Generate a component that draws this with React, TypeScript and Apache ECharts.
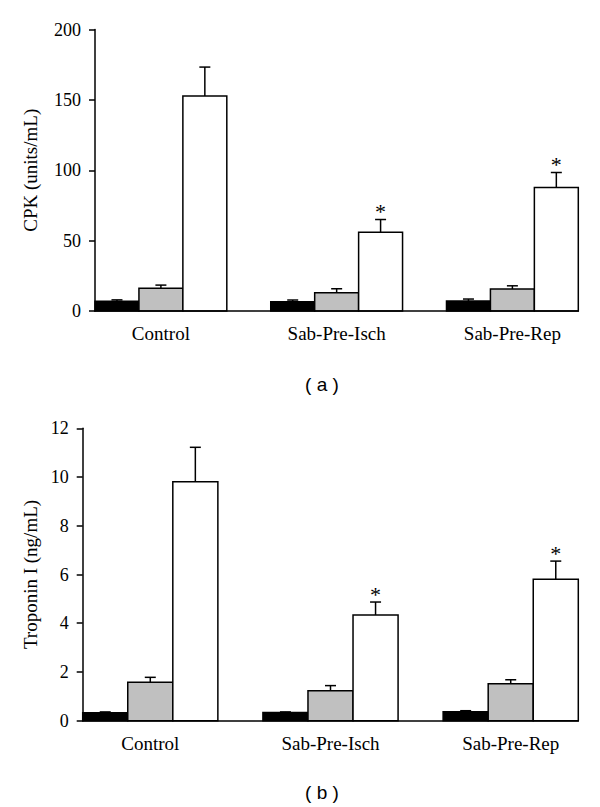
import React, { useEffect, useRef } from "react";
import * as echarts from "echarts";

const categories = ["Control", "Sab-Pre-Isch", "Sab-Pre-Rep"];

// Panel (a): CPK (units/mL)
const cpkBlack = [7, 6.6, 7.1];
const cpkBlackErr = [0.9, 1.2, 1.4];
const cpkGray = [16.1, 13.0, 15.6];
const cpkGrayErr = [2.3, 2.8, 2.3];
const cpkWhite = [152.7, 56.0, 87.7];
const cpkWhiteErr = [20.6, 9.0, 10.7];
const cpkStar = [false, true, true];
const cpkTicks = { min: 0, max: 200, interval: 50 };

// Panel (b): Troponin I (ng/mL)
const tnBlack = [0.33, 0.34, 0.37];
const tnBlackErr = [0.03, 0.02, 0.04];
const tnGray = [1.58, 1.23, 1.52];
const tnGrayErr = [0.2, 0.21, 0.16];
const tnWhite = [9.81, 4.34, 5.81];
const tnWhiteErr = [1.41, 0.53, 0.74];
const tnStar = [false, true, true];
const tnTicks = { min: 0, max: 12, interval: 2 };

const fills = ["#000000", "#c0c0c0", "#ffffff"];

const SLOTS = 4; // black, gray, white, gap
const slotCount = categories.length * SLOTS - 1;
const slotLabels = Array.from({ length: slotCount }, (_, i) =>
  i % SLOTS === 1 ? categories[Math.floor(i / SLOTS)] : ""
);
const slotIndex = (cat: number, k: number) => cat * SLOTS + k;

function barData(vals: number[][], errs: number[][], stars: boolean[]) {
  const out: any[] = [];
  for (let k = 0; k < 3; k++) {
    vals[k].forEach((v, c) => {
      out.push([slotIndex(c, k), v, v + errs[k][c], k, k === 2 && stars[c] ? 1 : 0]);
    });
  }
  return out;
}

const serif = "'Liberation Serif', 'Times New Roman', serif";

function buildPanel(idx: number, black: number[], gray: number[], white: number[], errs: number[][], stars: boolean[]) {
  return [
    {
      type: "custom",
      xAxisIndex: idx,
      yAxisIndex: idx,
      z: 3,
      clip: false,
      data: barData([black, gray, white], errs, stars),
      renderItem: (params: any, api: any) => {
        const x = api.value(0);
        const zero = api.coord([x, 0]);
        const base = api.coord([x, api.value(1)]);
        const top = api.coord([x, api.value(2)]);
        const w = api.size([1, 0])[0];
        const kind = api.value(3);
        const half = 5.5;
        const children: any[] = [
          {
            type: "rect",
            shape: { x: zero[0] - w / 2, y: base[1], width: w, height: zero[1] - base[1] },
            style: { fill: fills[kind], stroke: "#000", lineWidth: 1.5 },
          },
          { type: "line", shape: { x1: base[0], y1: base[1], x2: top[0], y2: top[1] }, style: { stroke: "#000", lineWidth: 1.5 } },
          { type: "line", shape: { x1: top[0] - half, y1: top[1], x2: top[0] + half, y2: top[1] }, style: { stroke: "#000", lineWidth: 1.5 } },
        ];
        if (api.value(4) === 1) {
          children.push({
            type: "text",
            x: top[0],
            y: top[1] + 3,
            style: { text: "*", font: `22px ${serif}`, fill: "#000", align: "center", verticalAlign: "bottom" },
          });
        }
        return { type: "group", children };
      },
    },
  ];
}

export default function App() {
  const ref = useRef<HTMLDivElement>(null);
  useEffect(() => {
    if (!ref.current) return;
    const chart = echarts.init(ref.current, null, { renderer: "svg" });
    const xAxisBase = (gi: number) => ({
      type: "category",
      gridIndex: gi,
      data: slotLabels,
      boundaryGap: true,
      axisLine: { lineStyle: { color: "#000", width: 1.5 } },
      axisTick: { interval: 0, length: 6, lineStyle: { color: "#000", width: 1.5 } },
      axisLabel: { interval: 0, color: "#000", fontFamily: serif, fontSize: 19, margin: 13 },
      splitLine: { show: false },
      z: 10,
    });
    const yAxisBase = (gi: number, t: any, name: string, gap: number) => ({
      type: "value",
      gridIndex: gi,
      min: t.min,
      max: t.max,
      interval: t.interval,
      name,
      nameLocation: "middle",
      nameGap: gap,
      nameTextStyle: { color: "#000", fontFamily: serif, fontSize: 19 },
      axisLine: { show: true, lineStyle: { color: "#000", width: 1.5 } },
      axisTick: { show: true, length: 6, lineStyle: { color: "#000", width: 1.5 } },
      axisLabel: { color: "#000", fontFamily: serif, fontSize: 18, margin: 14 },
      splitLine: { show: false },
    });
    chart.setOption({
      animation: false,
      backgroundColor: "#fff",
      grid: [
        { left: 95, right: 21.7, top: 29.5, bottom: 496 },
        { left: 82.7, right: 21.7, top: 428.3, bottom: 86.3 },
      ],
      xAxis: [xAxisBase(0), xAxisBase(1)],
      yAxis: [
        yAxisBase(0, cpkTicks, "CPK (units/mL)", 55),
        yAxisBase(1, tnTicks, "Troponin I (ng/mL)", 43),
      ],
      series: [
        ...buildPanel(0, cpkBlack, cpkGray, cpkWhite, [cpkBlackErr, cpkGrayErr, cpkWhiteErr], cpkStar),
        ...buildPanel(1, tnBlack, tnGray, tnWhite, [tnBlackErr, tnGrayErr, tnWhiteErr], tnStar),
      ],
      graphic: [
        { type: "text", x: 322, y: 384, style: { text: "( a )", font: "19px 'Liberation Sans', Arial, sans-serif", fill: "#000", align: "center", verticalAlign: "middle" } },
        { type: "text", x: 322, y: 792, style: { text: "( b )", font: "19px 'Liberation Sans', Arial, sans-serif", fill: "#000", align: "center", verticalAlign: "middle" } },
      ],
    });
    return () => chart.dispose();
  }, []);
  return <div ref={ref} style={{ position: "absolute", left: 0, top: 0, width: 600, height: 807 }} />;
}
